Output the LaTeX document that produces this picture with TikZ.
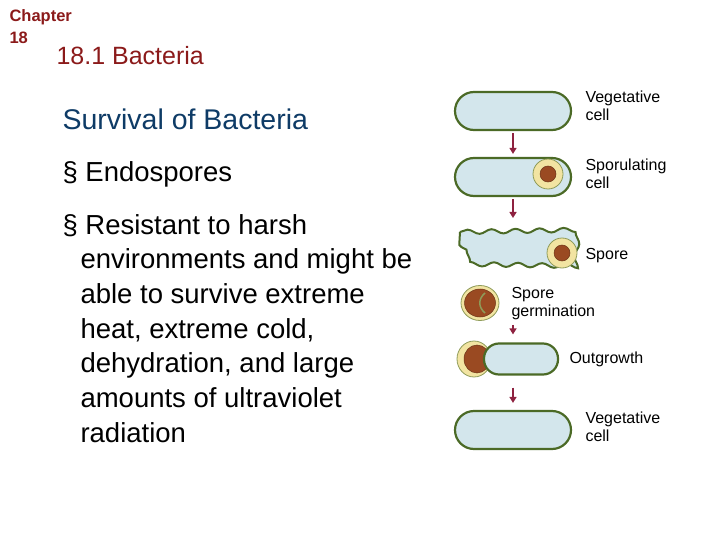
\documentclass[tikz,border=0pt]{standalone}
\usepackage{fontspec}
\setmainfont{Liberation Sans}
\usetikzlibrary{positioning,decorations.pathmorphing,arrows.meta,shapes.geometric}
\definecolor{chapred}{HTML}{8B1A1A}
\definecolor{navy}{HTML}{0E3B66}
\definecolor{cellblue}{HTML}{D3E6EC}
\definecolor{cellgreen}{HTML}{4B6A26}
\definecolor{corebrown}{HTML}{9A4A22}
\definecolor{coatyellow}{HTML}{F2E4A2}
\definecolor{arrowred}{HTML}{8E2240}
\tikzset{
  cell/.style={draw=cellgreen, line width=2.2pt, fill=cellblue, rounded corners=19pt},
  coat/.style={circle, draw=cellgreen!60!coatyellow, line width=0.8pt, fill=coatyellow},
  core/.style={circle, fill=corebrown, draw=corebrown!70!black, line width=0.5pt},
  label/.style={anchor=base west, font=\fontsize{16}{18}\selectfont, align=left},
  step arrow/.style={-{Triangle[length=6pt,width=7pt]}, line width=2pt, draw=arrowred},
  body/.style={anchor=base west, font=\fontsize{27.5}{27.5}\selectfont},
}
\begin{document}
\begin{tikzpicture}[x=1pt,y=-1pt]
  \useasboundingbox (0,0) rectangle (720,540);
  % headings
  \node[anchor=base west, text=chapred, font=\fontsize{16.5}{16.5}\selectfont\bfseries] (chap) at (6,22) {Chapter};
  \node[anchor=base west, text=chapred, font=\fontsize{16.5}{16.5}\selectfont\bfseries] (chapno) at (6,44) {18};
  \node[anchor=base west, text=chapred, font=\fontsize{25}{25}\selectfont] (sec) at (53,65) {18.1 Bacteria};
  \node[anchor=base west, text=navy, font=\fontsize{28.5}{28.5}\selectfont] (title) at (59,130) {Survival of Bacteria};
  \node[body] (b1) at (59,182) {§ Endospores};
  \node[body] (b2) at (59,234) {§ Resistant to harsh};
  \foreach \t [count=\i] in {environments and might be, able to survive extreme, {heat, extreme cold,}, {dehydration, and large}, amounts of ultraviolet, radiation}
    \node[body] at (77,234+34.7*\i) {\t};

  % cells
  \node[cell, minimum width=116pt, minimum height=38pt] (veg1) at (513,111) {};
  \node[cell, minimum width=116pt, minimum height=38pt] (sporul) at (513,177) {};
  \node[coat, minimum size=30pt] (sp1) at (548,174) {};
  \node[core, minimum size=16pt] at (sp1) {};
  \path[decorate, decoration={snake, amplitude=2.2pt, segment length=24pt},
        draw=cellgreen, line width=2pt, fill=cellblue]
    (460,232) -- (568,230) -- (566,268) -- (458,266) -- cycle;
  \coordinate (wavy) at (513,249);
  \node[coat, minimum size=30pt] (spore) at (562,253) {};
  \node[core, minimum size=16pt] at (spore) {};
  \node[coat, minimum width=38pt, minimum height=35pt, ellipse] (germ) at (480,303) {};
  \node[core, ellipse, minimum width=31pt, minimum height=28pt] at (germ) {};
  \draw[cellgreen!60!coatyellow, line width=1.5pt] (485,293) .. controls (478,299) and (478,307) .. (485,313);
  \node[coat, minimum width=34pt, minimum height=36pt, ellipse] (cap) at (474,359) {};
  \node[core, ellipse, minimum width=26pt, minimum height=28pt] at (477,359) {};
  \node[cell, minimum width=74pt, minimum height=31pt, rounded corners=15pt] (outg) at (521,359) {};
  \node[cell, minimum width=116pt, minimum height=38pt] (veg2) at (513,430) {};

  % labels
  \node[label] at (582,121) {Vegetative\\cell};
  \node[label] at (582,189) {Sporulating\\cell};
  \node[label] at (582,259) {Spore};
  \node[label] at (508,316) {Spore\\germination};
  \node[label] at (566,363) {Outgrowth};
  \node[label] at (582,441) {Vegetative\\cell};

  % arrows
  \draw[step arrow, shorten <=2pt, shorten >=3pt] (veg1.south) -- (sporul.north);
  \draw[step arrow, shorten <=2pt, shorten >=10pt] (sporul.south) -- (wavy |- 228,228);
  \draw[step arrow, shorten <=4pt, shorten >=8pt] (germ.south -| veg1.south) -- (outg.north -| veg1.south);
  \draw[step arrow, shorten <=12pt, shorten >=7pt] (outg.south -| veg1.south) -- (veg2.north);
\end{tikzpicture}
\end{document}
